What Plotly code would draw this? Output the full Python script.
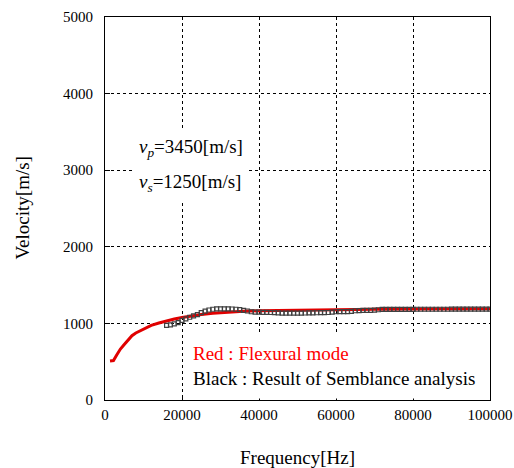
import plotly.graph_objects as go

# Red: flexural mode dispersion curve
red_freq = [1300, 2200, 3000, 4000, 5000, 6000, 7000, 8000, 10000, 12000, 14000,
            16000, 18000, 20000, 22000, 25000, 28000, 32000, 36000, 40000, 45000,
            50000, 55000, 60000, 70000, 80000, 90000, 100000]
red_vel = [510, 515, 585, 665, 725, 785, 840, 875, 930, 975, 1005,
           1035, 1058, 1078, 1095, 1115, 1132, 1148, 1158, 1165, 1170,
           1174, 1178, 1181, 1185, 1188, 1190, 1192]

# Black: semblance analysis result
blk_freq = list(range(16000, 100001, 1000))
blk_vel = [975, 980, 995, 1010, 1040, 1060, 1080, 1097, 1115, 1140,
           1160, 1175, 1185, 1190, 1190, 1190, 1190, 1188, 1185, 1180,
           1170, 1162, 1152, 1148, 1147, 1145, 1143, 1142, 1140, 1138,
           1135, 1133, 1133, 1133, 1134, 1135, 1136, 1137, 1138, 1139,
           1140, 1141, 1142, 1148, 1152, 1153, 1154, 1155, 1158, 1165,
           1168, 1170, 1170, 1171, 1172, 1178, 1182, 1183, 1183, 1183,
           1184, 1184, 1184, 1184, 1184, 1185, 1185, 1185, 1185, 1185,
           1185, 1185, 1185, 1185, 1186, 1186, 1186, 1186, 1186, 1186,
           1186, 1186, 1186, 1186, 1186]

x_ticks = [0, 20000, 40000, 60000, 80000, 100000]
y_ticks = [0, 1000, 2000, 3000, 4000, 5000]

FONT = "Liberation Serif, Times New Roman, serif"

fig = go.Figure()
fig.add_trace(go.Scatter(x=red_freq, y=red_vel, mode="lines",
                         line=dict(color="#e00000", width=3), showlegend=False))
fig.add_trace(go.Scatter(x=blk_freq, y=blk_vel, mode="markers",
                         marker=dict(symbol="square-open", size=4, color="#404040",
                                     line=dict(width=1.2, color="#404040")),
                         showlegend=False))

axis_common = dict(showgrid=True, gridcolor="black", griddash="dot", gridwidth=1,
                   showline=True, linecolor="black", linewidth=1, mirror=True,
                   ticks="inside", ticklen=5, tickcolor="black", zeroline=False,
                   automargin=False,
                   tickfont=dict(family=FONT, size=15, color="black"))

fig.update_xaxes(range=[0, 100000], tickvals=x_ticks, ticktext=[str(v) for v in x_ticks],
                 ticklabelstandoff=1, **axis_common)
fig.update_yaxes(range=[0, 5000], tickvals=y_ticks, ticktext=[str(v) for v in y_ticks],
                 ticklabelstandoff=8, **axis_common)

fig.add_annotation(x=0.5, y=0, xref="paper", yref="paper", yanchor="middle",
                   yshift=-57, showarrow=False, text="Frequency[Hz]",
                   font=dict(family=FONT, size=19, color="black"))
fig.add_annotation(x=0, y=0.5, xref="paper", yref="paper", xanchor="center",
                   xshift=-83, showarrow=False, text="Velocity[m/s]", textangle=-90,
                   font=dict(family=FONT, size=19, color="black"))

fig.add_annotation(x=7200, y=3290, xanchor="left", yanchor="middle", showarrow=False,
                   text="<i>v</i><sub><i>p</i></sub>=3450[m/s]", bgcolor="white",
                   borderpad=5, font=dict(family=FONT, size=19, color="black"))
fig.add_annotation(x=7200, y=2830, xanchor="left", yanchor="middle", showarrow=False,
                   text="<i>v</i><sub><i>s</i></sub>=1250[m/s]", bgcolor="white",
                   borderpad=5, font=dict(family=FONT, size=19, color="black"))

fig.add_annotation(x=20300, y=440, xanchor="left", yanchor="middle", showarrow=False,
                   align="left", bgcolor="white", borderpad=9,
                   text="<span style='color:#ff0000'>Red : Flexural mode</span><br>"
                        "Black : Result of Semblance analysis",
                   font=dict(family=FONT, size=19, color="black"))

fig.update_layout(width=514, height=468, margin=dict(l=105, r=24, t=17, b=68),
                  plot_bgcolor="white", paper_bgcolor="white",
                  font=dict(family=FONT, color="black"))

fig.write_html("out.html")
